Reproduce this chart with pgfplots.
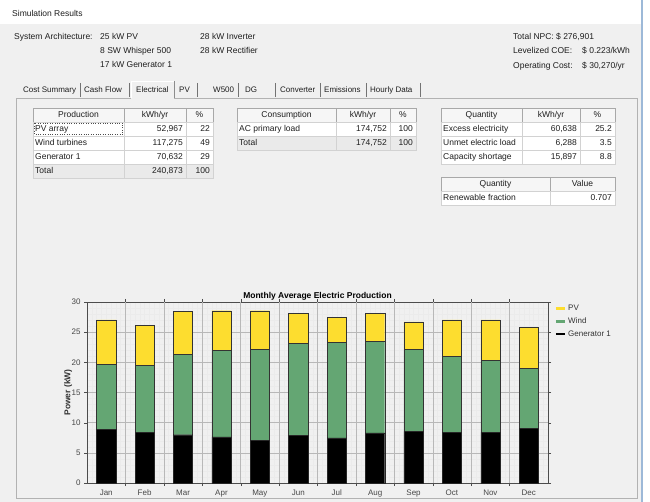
\documentclass[border=0pt]{standalone}
\usepackage{fontspec}
\setmainfont{Liberation Sans}
\usepackage{pgfplots}
\usepackage{pgfplotstable}
\pgfplotsset{compat=1.18}

\definecolor{pvyellow}{HTML}{FDDD2F}
\definecolor{windgreen}{HTML}{64A673}
\definecolor{panelbg}{HTML}{F0F0F0}
\definecolor{hdrfill}{HTML}{F6F6F6}
\definecolor{hdrline}{HTML}{A8A8A8}
\definecolor{cellline}{HTML}{D2D2D2}
\definecolor{totfill}{HTML}{EAEAEA}
\definecolor{txt}{HTML}{1E1E1E}
\definecolor{winblue}{HTML}{9DB9D8}

% monthly average production (kW), stacked bottom to top
\pgfplotstableread{
idx gen  wind  pv
0   8.90 10.80 7.35
1   8.45 11.05 6.60
2   8.00 13.30 7.10
3   7.65 14.35 6.55
4   7.05 15.05 6.45
5   7.95 15.25 4.90
6   7.50 15.85 4.10
7   8.30 15.15 4.65
8   8.55 13.55 4.60
9   8.40 12.55 6.10
10  8.40 11.90 6.75
11  9.05 10.00 6.75
}\monthly

% table cells: x1 y1 x2 y2 ...
\newcommand\hcell[5]{%
  \draw[hdrline, fill=hdrfill] (#1,#2) rectangle (#3,#4);
  \node at ({(#1+#3)/2},{(#2+#4)/2}) {#5};}
\newcommand\lcell[6]{%
  \draw[cellline, fill=#5] (#1,#2) rectangle (#3,#4);
  \node[anchor=west] at (#1+2,{(#2+#4)/2}) {#6};}
\newcommand\rcell[6]{%
  \draw[cellline, fill=#5] (#1,#2) rectangle (#3,#4);
  \node[anchor=east] at (#3-3,{(#2+#4)/2}) {#6};}

\begin{document}
\begin{tikzpicture}
\begin{scope}[x=1pt, y=-1pt, every node/.style={inner sep=0pt, text height=6pt, text depth=1.7pt, text=txt, font=\fontsize{8.5}{10}\selectfont}]
  \useasboundingbox (0,0) rectangle (650,502);
  \fill[white] (0,0) rectangle (650,502);
  \fill[panelbg] (0,24) rectangle (641,502);
  \draw[winblue, line width=1.5pt] (642,0) -- (642,502);

  \node[anchor=west] at (12,14) {Simulation Results};

  \node[anchor=west] at (14,37) {System Architecture:};
  \node[anchor=west] at (100,37) {25 kW PV};
  \node[anchor=west] at (100,51) {8 SW Whisper 500};
  \node[anchor=west] at (100,65) {17 kW Generator 1};
  \node[anchor=west] at (200,37) {28 kW Inverter};
  \node[anchor=west] at (200,51) {28 kW Rectifier};
  \node[anchor=west] at (513,37) {Total NPC:\ \$ 276,901};
  \node[anchor=west] at (513,51) {Levelized COE:};
  \node[anchor=west] at (582,51) {\$ 0.223/kWh};
  \node[anchor=west] at (513,66) {Operating Cost:};
  \node[anchor=west] at (582,66) {\$ 30,270/yr};

  % panel and tabs
  \draw[black!30] (16,98) rectangle (637,498);
  \fill[panelbg] (131,81) rectangle (174,99);
  \draw[white] (131,98) -- (131,81) -- (174,81);
  \draw[black!45] (174,81) -- (174,98);
  \foreach \xs in {80,129,197,238,275,320,366,420}
    \draw[black!55] (\xs,83) -- (\xs,97);
  \begin{scope}[every node/.append style={font=\fontsize{8}{10}\selectfont}]
    \node[anchor=west] at (23,90) {Cost Summary};
    \node[anchor=west] at (84,90) {Cash Flow};
    \node[anchor=west] at (136,90) {Electrical};
    \node[anchor=west] at (179,90) {PV};
    \node[anchor=west] at (213,90) {W500};
    \node[anchor=west] at (245,90) {DG};
    \node[anchor=west] at (280,90) {Converter};
    \node[anchor=west] at (324,90) {Emissions};
    \node[anchor=west] at (370,90) {Hourly Data};
  \end{scope}

  % production table
  \hcell{33}{108}{124}{122}{Production}
  \hcell{124}{108}{186}{122}{kWh/yr}
  \hcell{186}{108}{213}{122}{\%}
  \lcell{33}{122}{124}{136}{white}{PV array}
  \rcell{124}{122}{186}{136}{white}{52,967}
  \rcell{186}{122}{213}{136}{white}{22}
  \lcell{33}{136}{124}{150}{white}{Wind turbines}
  \rcell{124}{136}{186}{150}{white}{117,275}
  \rcell{186}{136}{213}{150}{white}{49}
  \lcell{33}{150}{124}{164}{white}{Generator 1}
  \rcell{124}{150}{186}{164}{white}{70,632}
  \rcell{186}{150}{213}{164}{white}{29}
  \lcell{33}{164}{124}{178}{totfill}{Total}
  \rcell{124}{164}{186}{178}{totfill}{240,873}
  \rcell{186}{164}{213}{178}{totfill}{100}
  \draw[black!70, dotted] (34.5,123.5) rectangle (122.5,134.5);

  % consumption table
  \hcell{237}{108}{336}{122}{Consumption}
  \hcell{336}{108}{390}{122}{kWh/yr}
  \hcell{390}{108}{416}{122}{\%}
  \lcell{237}{122}{336}{136}{white}{AC primary load}
  \rcell{336}{122}{390}{136}{white}{174,752}
  \rcell{390}{122}{416}{136}{white}{100}
  \lcell{237}{136}{336}{150}{totfill}{Total}
  \rcell{336}{136}{390}{150}{totfill}{174,752}
  \rcell{390}{136}{416}{150}{totfill}{100}

  % quantity tables
  \hcell{441}{108}{522}{122}{Quantity}
  \hcell{522}{108}{580}{122}{kWh/yr}
  \hcell{580}{108}{615}{122}{\%}
  \lcell{441}{122}{522}{136}{white}{Excess electricity}
  \rcell{522}{122}{580}{136}{white}{60,638}
  \rcell{580}{122}{615}{136}{white}{25.2}
  \lcell{441}{136}{522}{150}{white}{Unmet electric load}
  \rcell{522}{136}{580}{150}{white}{6,288}
  \rcell{580}{136}{615}{150}{white}{3.5}
  \lcell{441}{150}{522}{164}{white}{Capacity shortage}
  \rcell{522}{150}{580}{164}{white}{15,897}
  \rcell{580}{150}{615}{164}{white}{8.8}
  \hcell{441}{177}{550}{191}{Quantity}
  \hcell{550}{177}{615}{191}{Value}
  \lcell{441}{191}{550}{205}{white}{Renewable fraction}
  \rcell{550}{191}{615}{205}{white}{0.707}
\end{scope}

\begin{axis}[
  at={(87pt,-483pt)}, anchor=south west,
  scale only axis, width=461pt, height=181pt,
  ybar stacked, bar width=0.5,
  xmin=-0.5, xmax=11.5, ymin=0, ymax=30,
  xtick={0,...,11},
  xticklabels={Jan,Feb,Mar,Apr,May,Jun,Jul,Aug,Sep,Oct,Nov,Dec},
  xtick style={draw=none},
  extra x ticks={0.5,1.5,...,10.5},
  extra x tick labels={},
  extra x tick style={grid=major, xtick style={draw=black!70}, major tick length=3pt},
  minor xtick={-0.375,-0.25,...,11.4},
  xminorgrids,
  ytick={0,5,...,30},
  minor ytick={1,2,...,29},
  ymajorgrids, yminorgrids,
  tick align=outside,
  major tick length=3pt, minor tick length=0pt,
  ytick style={draw=black!70},
  major grid style={draw=black!28},
  minor grid style={draw=black!8},
  axis line style={draw=black!70},
  tick label style={font=\fontsize{8}{9}\selectfont, text=black!72},
  /pgf/number format/assume math mode=true,
  every axis title shift=0pt,
  title={Monthly Average Electric Production},
  title style={font=\bfseries\fontsize{8.5}{9}\selectfont, at={(0.5,1)}, anchor=south, inner sep=1.5pt},
  ylabel={Power (kW)},
  ylabel style={at={(axis description cs:-0.041,0.5)}, anchor=center, font=\bfseries\fontsize{8.5}{9}\selectfont, text=black!80},
  legend style={at={(1.012,1.0)}, anchor=north west, draw=none, fill=none,
    font=\fontsize{8}{9}\selectfont, text=black!80, row sep=1.5pt, inner sep=1pt},
  legend cell align=left,
]
  \addlegendimage{legend image code/.code={\draw[pvyellow, line width=2.5pt] (0pt,0pt) -- (9pt,0pt);}}
  \addlegendentry{PV}
  \addlegendimage{legend image code/.code={\draw[windgreen, line width=2.5pt] (0pt,0pt) -- (9pt,0pt);}}
  \addlegendentry{Wind}
  \addlegendimage{legend image code/.code={\draw[black, line width=2.5pt] (0pt,0pt) -- (9pt,0pt);}}
  \addlegendentry{Generator 1}
  \addplot[fill=black, draw=black!85] table[x=idx, y=gen] {\monthly};
  \addplot[fill=windgreen, draw=black!80] table[x=idx, y=wind] {\monthly};
  \addplot[fill=pvyellow, draw=black!80] table[x=idx, y=pv] {\monthly};
\end{axis}
\end{tikzpicture}
\end{document}
